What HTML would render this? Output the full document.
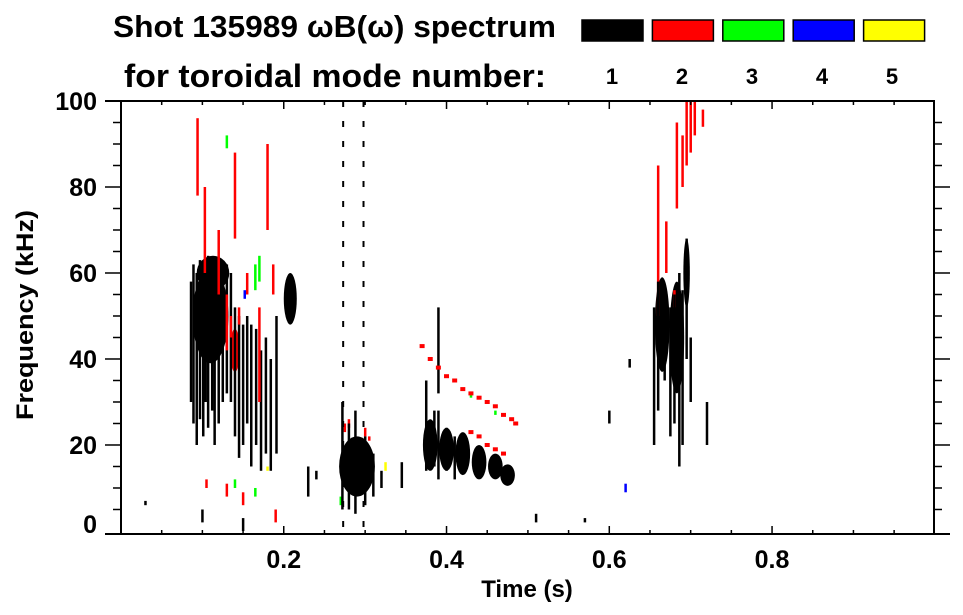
<!DOCTYPE html>
<html><head><meta charset="utf-8"><style>
body{margin:0;background:#fff;}
svg{display:block;font-family:"Liberation Sans",Arial,sans-serif;font-weight:bold;}
</style></head><body>
<svg id="chart" width="963" height="615" viewBox="0 0 963 615">
<text x="113" y="37" font-size="31" textLength="443" lengthAdjust="spacingAndGlyphs">Shot 135989 ωB(ω) spectrum</text>
<text x="124" y="87" font-size="32" textLength="422" lengthAdjust="spacingAndGlyphs">for toroidal mode number:</text>
<g id="legend"></g>
<g id="marks"></g>
<g id="axes"></g>
<text x="527" y="597" font-size="24" text-anchor="middle">Time (s)</text>
<text transform="translate(33,315) rotate(-90)" font-size="24" text-anchor="middle" textLength="210" lengthAdjust="spacingAndGlyphs">Frequency (kHz)</text>
</svg>
<script>
const modeNames = ["1","2","3","4","5"];
const modeColors = ["#000","#f00","#0f0","#00f","#ff0"];
const xTicks = [0.2,0.4,0.6,0.8];
const yTicks = [0,20,40,60,80,100];
// streaks: time, fLow, fHigh, mode index
const streakT = [0.086,0.089,0.093,0.097,0.101,0.104,0.107,0.112,0.115,0.120,0.125,0.130,0.135,0.140,0.145,0.150,0.155,0.160,0.166,0.172,0.178,0.184,0.191,
 0.094,0.103,0.120,0.130,0.135,0.145,0.170,0.155,0.180,0.140,0.105,0.130,0.150,0.187,0.190,
 0.660,0.670,0.683,0.690,0.695,0.700,0.705,0.715,0.680,
 0.275,0.280,0.300,0.305,
 0.130,0.165,0.170,0.165,0.140,0.430,0.460,0.270,
 0.620,0.152,0.180,0.325,
 0.272,0.280,0.288,0.300,0.310,0.320,0.273,0.298,0.345,
 0.375,0.385,0.390,0.400,0.410,0.390,
 0.655,0.660,0.668,0.675,0.680,0.686,0.690,0.695,0.700,
 0.030,0.100,0.150,0.230,0.240,0.510,0.570,0.600,0.625,0.720];
const streakLo = [30,25,20,26,22,30,24,28,20,25,30,32,30,22,17,20,25,15,20,14,18,14,18,
 78,60,55,42,45,48,30,55,70,68,10,8,6,55,2,
 50,60,75,80,85,88,92,94,52,
 23,24,22,21,
 89,56,58,8,10,31,27,6,
 9,54,14,14,
 5,5,4,6,8,10,0,0,10,
 14,15,12,14,12,32,
 20,28,35,22,25,15,20,40,30,
 6,2,0,8,12,2,2,25,38,20];
const streakHi = [58,62,60,63,60,62,64,62,63,62,62,62,60,52,50,48,50,48,47,42,45,40,50,
 96,80,70,55,50,52,52,60,90,88,12,11,9,62,5,
 85,72,95,92,100,100,100,98,56,
 25,26,24,22,
 92,62,64,10,12,32,28,8,
 11,56,15,16,
 30,25,28,22,18,14,100,100,16,
 35,28,28,24,22,52,
 52,58,56,52,55,60,56,68,45,
 7,5,3,15,14,4,3,28,40,30];
const streakMode = [0,0,0,0,0,0,0,0,0,0,0,0,0,0,0,0,0,0,0,0,0,0,0,
 1,1,1,1,1,1,1,1,1,1,1,1,1,1,1,
 1,1,1,1,1,1,1,1,1,
 1,1,1,1,
 2,2,2,2,2,2,2,2,
 3,3,4,4,
 0,0,0,0,0,0,0,0,0,
 0,0,0,0,0,0,
 0,0,0,0,0,0,0,0,0,
 0,0,0,0,0,0,0,0,0,0];
// blobs: centre time, centre freq, half-width (s), half-height (kHz), mode
const blobT = [0.110,0.208,0.290,0.380,0.400,0.420,0.440,0.460,0.475,0.665,0.683,0.695,0.113,0.140];
const blobF = [50,54,15,20,19,18,16,15,13,48,45,60,60,42];
const blobRT = [0.022,0.008,0.022,0.009,0.009,0.009,0.009,0.009,0.009,0.009,0.009,0.004,0.02,0.006];
const blobRF = [11,6,7,6,5,5,4,3,2.5,11,13,8,4,5];
const blobMode = [0,0,0,0,0,0,0,0,0,0,0,0,0,1];
// red chirp lines
const chirp1T = [0.37,0.38,0.39,0.40,0.41,0.42,0.43,0.44,0.45,0.46,0.47,0.48,0.485];
const chirp1F = [43,40,38,36,35,33,32,31,30,29,27,26,25];
const chirp2T = [0.43,0.44,0.45,0.46,0.47];
const chirp2F = [23,22,20,19,18];

const L=121,R=934,T=101,B=534, tMin=0,tMax=0.999,fMin=-0.7,fMax=100;
const xs=t=>L+(t-tMin)/(tMax-tMin)*(R-L);
const ys=f=>B-(f-fMin)/(fMax-fMin)*(B-T);
const NS="http://www.w3.org/2000/svg";
function mk(tag,attrs,parent){const e=document.createElementNS(NS,tag);for(const k in attrs)e.setAttribute(k,attrs[k]);parent.appendChild(e);return e;}
const lg=document.getElementById('legend');
modeNames.forEach((m,i)=>{
  const r=mk('rect',{x:582+i*70.4,y:20,width:61,height:21,fill:modeColors[i],stroke:'#000','stroke-width':1.5},lg);
  
  
  const tx=mk('text',{x:612+i*70,y:84,'font-size':22,'text-anchor':'middle'},lg);
  tx.textContent=m;
  
  
});
const mg=document.getElementById('marks');
blobT.forEach((t,i)=>{
  const e=mk('ellipse',{cx:xs(t),cy:ys(blobF[i]),rx:xs(blobRT[i])-xs(0),ry:ys(0)-ys(blobRF[i]),fill:modeColors[blobMode[i]]},mg);
  
  
});
streakT.forEach((t,i)=>{
  const dashed = streakHi[i]-streakLo[i]>=100;
  const a={x:xs(t)-1.2,y:ys(streakHi[i]),width:dashed?2:2.5,height:ys(streakLo[i])-ys(streakHi[i]),fill:modeColors[streakMode[i]]};
  let r;
  if(dashed){r=mk('line',{x1:xs(t),x2:xs(t),y1:ys(streakHi[i]),y2:ys(streakLo[i]),stroke:'#000','stroke-width':2,'stroke-dasharray':'6 14'},mg);}
  else r=mk('rect',a,mg);
  
  
});
[[chirp1T,chirp1F],[chirp2T,chirp2F]].forEach(([ct,cf])=>{
  ct.forEach((t,i)=>{
    const r=mk('rect',{x:xs(t)-2.5,y:ys(cf[i])-2,width:5,height:4,fill:'#f00'},mg);
    
    
  });
});
const ax=document.getElementById('axes');
const fr=mk('rect',{x:L,y:T,width:R-L,height:B-T,fill:'none',stroke:'#000','stroke-width':2},ax);


mk('line',{x1:L-16,y1:B,x2:R+16,y2:B,stroke:'#000','stroke-width':2},ax);
mk('line',{x1:L-16,y1:T,x2:L,y2:T,stroke:'#000','stroke-width':2},ax);
for(let k=1;k<20;k++){const t=k*0.05,maj=k%4==0,x=xs(t);
  mk('line',{x1:x,y1:B,x2:x,y2:B-(maj?8:4),stroke:'#000','stroke-width':1.5},ax);
  mk('line',{x1:x,y1:T,x2:x,y2:T+(maj?8:4),stroke:'#000','stroke-width':1.5},ax);}
for(let k=1;k<20;k++){const f=k*5,maj=k%4==0,y=ys(f);
  mk('line',{x1:L,y1:y,x2:L-(maj?16:8),y2:y,stroke:'#000','stroke-width':1.5},ax);
  mk('line',{x1:R,y1:y,x2:R+(maj?16:8),y2:y,stroke:'#000','stroke-width':1.5},ax);}
xTicks.forEach(t=>{const tx=mk('text',{x:xs(t),y:568,'font-size':25,'text-anchor':'middle'},ax);tx.textContent=t.toFixed(1);
  
  });
yTicks.forEach(f=>{const tx=mk('text',{x:97,y:Math.min(ys(f)+9,533),'font-size':25,'text-anchor':'end'},ax);tx.textContent=f;
  
  });
</script>
</body></html>
